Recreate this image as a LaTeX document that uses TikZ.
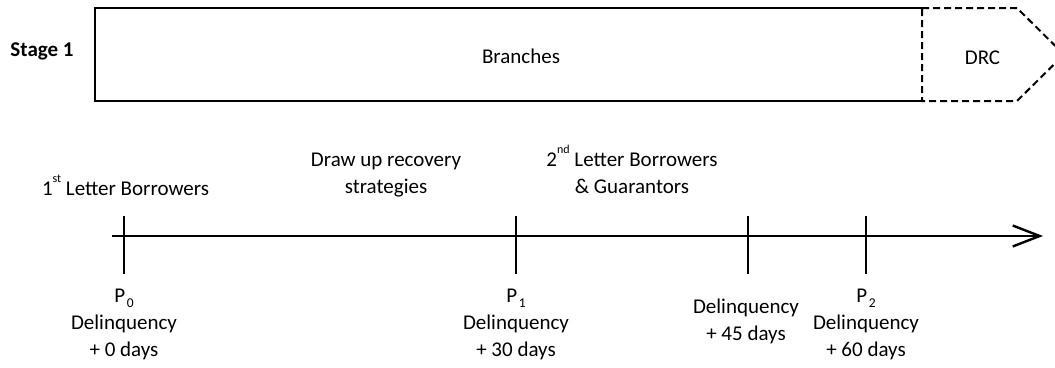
\documentclass[tikz,border=0pt]{standalone}
\usepackage{fontspec}
\setmainfont{Carlito}
\usetikzlibrary{arrows.meta}
% small raised / lowered marks for ordinals and milestone indices
\newcommand\ordmark[1]{\raisebox{0.58em}{\fontsize{12}{12}\selectfont #1}}
\newcommand\idxmark[1]{\kern1.5pt\raisebox{-0.28em}{\fontsize{13.5}{13.5}\selectfont #1}}
\tikzset{
  lbl/.style={inner sep=0pt, anchor=base, align=center,
    font=\fontsize{21}{27}\selectfont},
  boxline/.style={line width=2pt},
  dashline/.style={line width=2pt, dash pattern=on 7pt off 4pt},
  axis/.style={line width=2.6pt, -{Straight Barb[length=27pt,width=21pt,line width=2.4pt]}},
  tick/.style={line width=2.2pt}
}
\begin{document}
\begin{tikzpicture}[x=1pt,y=-1pt]
\useasboundingbox (0,0) rectangle (1055,367);
\clip (0,0) rectangle (1055,367);

% Stage row: branches block with the DRC arrow-shaped block on its right
\node[lbl, font=\fontsize{21}{27}\selectfont\bfseries] (stage) at (42,56) {Stage 1};
\coordinate (bTL) at (95,8);
\coordinate (bBL) at (95,101);
\coordinate (dTL) at (922,8);
\coordinate (dBL) at (922,101);
\coordinate (dTR) at (1017,8);
\coordinate (dBR) at (1017,101);
\coordinate (dTip) at (1064,54.5);
\draw[boxline] (dTL) -- (bTL) -- (bBL) -- (dBL);
\draw[dashline] (dTL) -- (dTR) -- (dTip) -- (dBR) -- (dBL) -- cycle;
\node[lbl] (branches) at (521,63) {Branches};
\node[lbl] (drc) at (982.5,64) {DRC};

% Time line
\coordinate (tstart) at (112,236);
\coordinate (tend) at (1043,236);
\draw[axis] (tstart) -- (tend);
\foreach \n/\x in {p0/124, p1/516, p45/748, p2/866} {
  \coordinate (\n top) at (\x,216);
  \coordinate (\n bot) at (\x,274);
  \draw[tick] (\n top) -- (\n bot);
}

% Actions above the time line (anchored at the baseline of the last line)
\node[lbl] (letter1) at (125.5,195) {1\ordmark{st} Letter Borrowers};
\node[lbl] (draw) at (386,193) {Draw up recovery\\strategies};
\node[lbl] (letter2) at (632,193) {2\ordmark{nd} Letter Borrowers\\\& Guarantors};

% Milestones below the time line
\node[lbl] (m0) at (124,356) {P\idxmark{0}\\Delinquency\\+ 0 days};
\node[lbl] (m1) at (516,356) {P\idxmark{1}\\Delinquency\\+ 30 days};
\node[lbl] (m45) at (746,340) {Delinquency\\+ 45 days};
\node[lbl] (m2) at (866,356) {P\idxmark{2}\\Delinquency\\+ 60 days};
\end{tikzpicture}
\end{document}
